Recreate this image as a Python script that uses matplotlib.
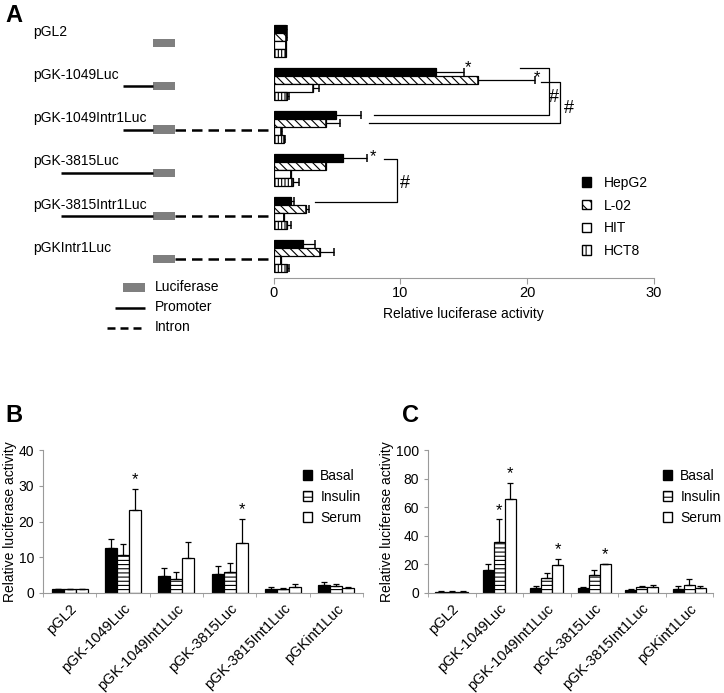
import numpy as np
import matplotlib
matplotlib.use('Agg')
import matplotlib.pyplot as plt
import matplotlib.transforms as mtransforms
from matplotlib.patches import Patch, Rectangle

plt.rcParams['font.family'] = ['Liberation Sans', 'DejaVu Sans']
plt.rcParams['font.size'] = 10
plt.rcParams['hatch.linewidth'] = 0.8

# ---- panel A data (relative luciferase activity, mean and +SD) ----
constructs_a = ['pGL2', 'pGK-1049Luc', 'pGK-1049Intr1Luc', 'pGK-3815Luc',
                'pGK-3815Intr1Luc', 'pGKIntr1Luc']
promoter_px = [0, 30, 30, 92, 92, 0]          # drawn length of the promoter line
has_intron = [False, False, True, False, True, True]

cells = ['HepG2', 'L-02', 'HIT', 'HCT8']
hepg2 = [1.0, 12.8, 4.95, 5.45, 1.35, 2.35]
hepg2_err = [0.1, 2.2, 1.95, 1.95, 0.3, 0.95]
l02 = [1.0, 16.1, 4.1, 4.1, 2.55, 3.7]
l02_err = [0.1, 4.5, 1.15, 0.0, 0.25, 1.1]
hit = [1.0, 3.15, 0.6, 1.35, 0.8, 0.6]
hit_err = [0.0, 0.45, 0.05, 0.0, 0.0, 0.0]
hct8 = [1.0, 1.05, 0.85, 1.5, 1.05, 1.05]
hct8_err = [0.0, 0.2, 0.05, 0.5, 0.3, 0.15]

# ---- panels B and C ----
constructs_bc = ['pGL2', 'pGK-1049Luc', 'pGK-1049Int1Luc', 'pGK-3815Luc',
                 'pGK-3815Int1Luc', 'pGKint1Luc']
treatments = ['Basal', 'Insulin', 'Serum']
b_basal = [1.0, 12.6, 4.7, 5.3, 1.2, 2.2]
b_basal_err = [0.2, 2.6, 2.2, 2.3, 0.5, 1.0]
b_insulin = [1.0, 10.7, 4.0, 6.0, 1.1, 2.0]
b_insulin_err = [0.1, 2.9, 2.0, 2.4, 0.3, 0.6]
b_serum = [1.0, 23.1, 9.7, 14.0, 1.7, 1.5]
b_serum_err = [0.1, 6.1, 4.5, 6.7, 0.7, 0.3]

c_basal = [1.0, 15.9, 3.7, 3.7, 2.1, 3.0]
c_basal_err = [0.1, 4.2, 1.2, 0.5, 0.5, 1.9]
c_insulin = [1.0, 35.5, 10.7, 12.6, 4.0, 5.8]
c_insulin_err = [0.1, 15.9, 3.6, 3.8, 0.7, 4.0]
c_serum = [1.0, 65.7, 19.6, 20.1, 4.0, 3.7]
c_serum_err = [0.1, 11.4, 4.5, 0.5, 1.4, 1.0]

b_stars = [(1, 2), (3, 2)]                 # (construct, treatment)
c_stars = [(1, 1), (1, 2), (2, 2), (3, 2)]

W, H = 724, 693


def box(x0, y0, x1, y1):
    return [x0 / W, 1 - y1 / H, (x1 - x0) / W, (y1 - y0) / H]


fig = plt.figure(figsize=(W / 100, H / 100), dpi=100)
GRAY = '#9a9a9a'

# ================= panel A =================
ax = fig.add_axes(box(273.5, 19, 654, 278))
axs = fig.add_axes(box(0, 19, 273.5, 278))

ya = np.arange(len(constructs_a))
bh = 0.185
styles_a = [dict(color='black', edgecolor='black'),
            dict(color='white', edgecolor='black', hatch='\\\\\\\\'),
            dict(color='white', edgecolor='black'),
            dict(color='white', edgecolor='black', hatch='|||||')]
vals_a = [hepg2, l02, hit, hct8]
errs_a = [hepg2_err, l02_err, hit_err, hct8_err]
for k in range(4):
    pos = ya + (k - 1.5) * bh
    ax.barh(pos, vals_a[k], height=bh, linewidth=0.9, label=cells[k], **styles_a[k])
    ax.errorbar(vals_a[k], pos, xerr=[np.zeros(6), errs_a[k]], fmt='none',
                ecolor='black', elinewidth=0.9, capsize=2.6, capthick=1.1)

ax.set_xlim(0, 30)
ax.set_ylim(5.5, -0.5)
ax.set_xticks([0, 10, 20, 30])
ax.set_yticks([])
for s in ['top', 'right', 'left']:
    ax.spines[s].set_visible(False)
ax.spines['bottom'].set_color(GRAY)
ax.tick_params(axis='x', colors=GRAY, length=4, pad=2, labelcolor='black', labelsize=10.5)
ax.set_xlabel('Relative luciferase activity', fontsize=10, labelpad=5)

# significance marks
star_a = [(15.3, 0.62), (20.8, 0.85), (7.85, 2.68)]
for x, y in star_a:
    ax.text(x, y, '*', fontsize=12, ha='center', va='center')
brackets = [(19.4, 0.64, 21.7, 1.72, 7.95, 22.1, 1.33),
            (21.1, 0.95, 22.6, 1.91, 7.5, 23.3, 1.58),
            (8.7, 2.74, 9.7, 3.74, 3.3, 10.4, 3.3)]
for x0, y0, xv, y1, x1, xh, yh in brackets:
    ax.plot([x0, xv, xv, x1], [y0, y0, y1, y1], color='black', lw=0.9, clip_on=False)
    ax.text(xh, yh, '#', fontsize=13, ha='center', va='center')

ax.legend(handles=[Patch(facecolor='black', edgecolor='black', label='HepG2'),
                   Patch(facecolor='white', edgecolor='black', hatch='\\\\\\', label='L-02'),
                   Patch(facecolor='white', edgecolor='black', label='HIT'),
                   Patch(facecolor='white', edgecolor='black', hatch='|||', label='HCT8')],
          loc='upper left', bbox_to_anchor=(582 / W, 1 - 176 / H),
          bbox_transform=fig.transFigure, frameon=False, fontsize=10,
          handlelength=0.65, handleheight=0.65, handletextpad=0.9,
          labelspacing=0.62, borderpad=0, borderaxespad=0)

# schematic of constructs
axs.set_xlim(0, 273.5)
axs.set_ylim(5.5, -0.5)
axs.axis('off')
LUC = '#7f7f7f'
for i, name in enumerate(constructs_a):
    axs.text(33, i - 0.2, name, fontsize=10, ha='left', va='center')
    yc = i + 0.06
    if promoter_px[i]:
        axs.plot([153 - promoter_px[i], 153], [yc, yc], color='black', lw=1.8,
                 solid_capstyle='butt')
    if has_intron[i]:
        axs.plot([175, 268], [yc, yc], color='black', lw=1.8,
                 linestyle=(0, (4.2, 2.4)), dash_capstyle='butt')
    axs.add_patch(Rectangle((153, yc - 0.095), 22, 0.19, facecolor=LUC, edgecolor='none'))

# schematic key
axs.add_patch(Rectangle((123, 5.72 - 0.095), 22, 0.19, facecolor=LUC,
                        edgecolor='none', clip_on=False))
axs.text(155, 5.70, 'Luciferase', fontsize=10, va='center')
axs.plot([115, 145], [6.19, 6.19], color='black', lw=1.8, clip_on=False,
         solid_capstyle='butt')
axs.text(155, 6.17, 'Promoter', fontsize=10, va='center')
axs.plot([107, 145], [6.65, 6.65], color='black', lw=1.8, clip_on=False,
         linestyle=(0, (3.2, 2.0)), dash_capstyle='butt')
axs.text(155, 6.63, 'Intron', fontsize=10, va='center')

fig.text(5 / W, 1 - 15 / H, 'A', fontsize=17, fontweight='bold', va='center')


# ================= panels B and C =================
def treatment_panel(rect, basal, basal_err, insulin, insulin_err, serum, serum_err,
                    stars, ymax, ystep, bw, leg_x, ylab_x):
    axp = fig.add_axes(rect)
    x = np.arange(len(constructs_bc))
    vals = [basal, insulin, serum]
    errs = [basal_err, insulin_err, serum_err]
    sty = [dict(color='black', edgecolor='black'),
           dict(color='white', edgecolor='black', hatch='----'),
           dict(color='white', edgecolor='black')]
    for k in range(3):
        pos = x + (k - 1) * bw
        axp.bar(pos, vals[k], width=bw, linewidth=0.9, **sty[k])
        axp.errorbar(pos, vals[k], yerr=[np.zeros(6), errs[k]], fmt='none',
                     ecolor='black', elinewidth=0.9, capsize=2.5, capthick=0.9)
    for g, k in stars:
        top = vals[k][g] + errs[k][g]
        axp.text(g + (k - 1) * bw, top + ymax * 0.012, '*', fontsize=12,
                 ha='center', va='bottom')
    axp.set_xlim(-0.5, 5.5)
    axp.set_ylim(0, ymax)
    axp.set_yticks(np.arange(0, ymax + 1, ystep))
    axp.set_xticks(x)
    axp.set_xticklabels(constructs_bc, rotation=45, ha='right', rotation_mode='anchor',
                        fontsize=10.5)
    shift = mtransforms.ScaledTranslation(8 / 100, -3 / 100, fig.dpi_scale_trans)
    for lab in axp.get_xticklabels():
        lab.set_transform(lab.get_transform() + shift)
    axp.set_xticks(np.arange(-0.5, 6, 1), minor=True)
    axp.tick_params(axis='x', which='major', length=0, pad=6)
    axp.tick_params(axis='x', which='minor', length=3, color=GRAY)
    axp.tick_params(axis='y', length=3, color=GRAY, labelsize=10)
    for s in ['top', 'right']:
        axp.spines[s].set_visible(False)
    axp.spines['left'].set_color(GRAY)
    axp.spines['bottom'].set_color(GRAY)
    axp.set_ylabel('Relative luciferase activity', fontsize=10)
    axp.yaxis.set_label_coords(ylab_x, 0.5)
    axp.legend(handles=[Patch(facecolor='black', edgecolor='black', label='Basal'),
                        Patch(facecolor='white', edgecolor='black', hatch='---', label='Insulin'),
                        Patch(facecolor='white', edgecolor='black', label='Serum')],
               loc='upper left', bbox_to_anchor=(leg_x / W, 1 - 469 / H),
               bbox_transform=fig.transFigure, frameon=False, fontsize=10,
               handlelength=0.65, handleheight=0.65, handletextpad=0.6,
               labelspacing=0.5, borderpad=0, borderaxespad=0)
    return axp


treatment_panel(box(43, 450, 363, 593), b_basal, b_basal_err, b_insulin, b_insulin_err,
                b_serum, b_serum_err, b_stars, 40, 10, 0.225, 303, -0.082)
treatment_panel(box(428, 450, 713, 593), c_basal, c_basal_err, c_insulin, c_insulin_err,
                c_serum, c_serum_err, c_stars, 100, 20, 0.23, 663, -0.118)

fig.text(5 / W, 1 - 415 / H, 'B', fontsize=17, fontweight='bold', va='center')
fig.text(402 / W, 1 - 415 / H, 'C', fontsize=17, fontweight='bold', va='center')

fig.savefig('out.png', dpi=100)
